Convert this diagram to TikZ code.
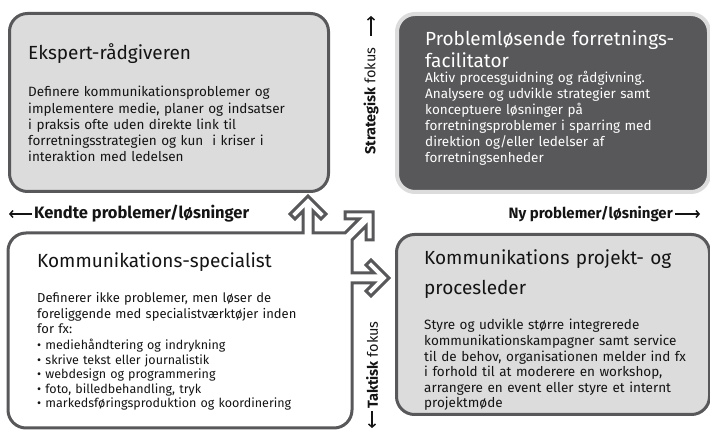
\documentclass[tikz,border=0pt]{standalone}
\usepackage{fontspec}
\setmainfont{Fira Sans}
\usetikzlibrary{arrows.meta}

\definecolor{boksgraa}{RGB}{220,220,221}
\definecolor{moerkgraa}{RGB}{88,88,90}
\definecolor{tekstsort}{RGB}{20,20,20}

\tikzset{
  boks/.style={draw=moerkgraa, line width=3pt, rounded corners=18pt, fill=boksgraa, minimum width=#1, anchor=north west, inner sep=0pt},
  kontur/.style={draw=moerkgraa, line width=3pt, fill=white, line join=miter},
  titel/.style={anchor=base west, inner sep=0pt, text width=300pt, align=left, text=tekstsort, font=\fontsize{19}{22}\selectfont},
  brod/.style={anchor=base west, inner sep=0pt, text width=300pt, align=left, text=tekstsort, font=\fontsize{13.5}{15.5}\selectfont},
  akse/.style={inner sep=2pt, text=tekstsort, font=\fontsize{16}{18}\selectfont},
  pil/.style={-{Straight Barb[length=3pt,width=7pt]}, line width=1.5pt, draw=tekstsort},
}

\begin{document}
\begin{tikzpicture}[x=1pt, y=-1pt]
\useasboundingbox (0,0) rectangle (710,430);

%oben links
\node[boks=319pt, minimum height=178pt] (ekspert) at (8,12) {};
\node[titel] (ekspert-titel) at (28,60) {Ekspert-rådgiveren};
\node[brod, font=\fontsize{13.5}{16.2}\selectfont] (ekspert-tekst) at (28,97) {Definere kommunikationsproblemer og\\
  implementere medie, planer og indsatser\\
  i praksis ofte uden direkte link til\\
  forretningsstrategien og kun\ \ i kriser i\\
  interaktion med ledelsen};

%oben rechts
\node[boks=312pt, minimum height=178pt, fill=moerkgraa, draw=boksgraa, line width=4pt] (facilitator) at (395,12) {};
\node[titel, text=white] (facilitator-titel) at (425,46) {Problemløsende forretnings-\\facilitator};
\node[brod, text=white, font=\fontsize{13.5}{16}\selectfont] (facilitator-tekst) at (425,83) {Aktiv procesguidning og rådgivning.\\
  Analysere og udvikle strategier samt\\
  konceptuere løsninger på\\
  forretningsproblemer i sparring med\\
  direktion og/eller ledelser af\\
  forretningsenheder};

%unten links: Rahmen mit Pfeilen
\draw[kontur] (8,251) arc[start angle=180, end angle=270, radius=18]
  -- (303,233) -- (303,211) -- (295,219) -- (290,214) -- (308,196)
  -- (326,214) -- (321,219) -- (313,211) -- (313,233)
  -- (345,233) -- (359,219) -- (345,219) -- (345,212) -- (373,212)
  -- (373,240) -- (366,240) -- (366,226) -- (352,240)
  -- (352,273) -- (374,273) -- (366,265) -- (371,260) -- (389,278)
  -- (371,296) -- (366,291) -- (374,283) -- (352,283)
  -- (352,410) arc[start angle=0, end angle=90, radius=18]
  -- (26,428) arc[start angle=90, end angle=180, radius=18] -- cycle;
\node[titel] (specialist-titel) at (37,268) {Kommunikations-specialist};
\node[brod, font=\fontsize{13}{15.5}\selectfont] (specialist-tekst) at (37,303) {Definerer ikke problemer, men løser de\\
  foreliggende med specialistværktøjer inden\\
  for fx:};
\node[brod, font=\fontsize{12.5}{14.5}\selectfont] (specialist-liste) at (37,350) {• mediehåndtering og indrykning\\
  • skrive tekst eller journalistik\\
  • webdesign og programmering\\
  • foto, billedbehandling, tryk\\
  • markedsføringsproduktion og koordinering};

%unten rechts
\node[boks=313pt, minimum height=180pt] (projektleder) at (395,233) {};
\node[titel, font=\fontsize{19}{30}\selectfont] (projektleder-titel) at (424,265) {Kommunikations projekt- og\\procesleder};
\node[brod, font=\fontsize{13.5}{15.6}\selectfont] (projektleder-tekst) at (424,330) {Styre og udvikle større integrerede\\
  kommunikationskampagner samt service\\
  til de behov, organisationen melder ind fx\\
  i forhold til at moderere en workshop,\\
  arrangere en event eller styre et internt\\
  projektmøde};

%Achsen
\node[akse, anchor=west, font=\fontsize{16.5}{18}\selectfont] (kendte) at (32,214) {\textbf{Kendte problemer/løsninger}};
\coordinate (kendte-pil) at (9,214);
\draw[pil] (kendte.west) -- (kendte-pil);

\node[akse, anchor=east, font=\fontsize{15}{17}\selectfont] (ny) at (675,214) {\textbf{Ny problemer/løsninger}};
\coordinate (ny-pil) at (700,214);
\draw[pil] (ny.east) -- (ny-pil);

\node[akse, rotate=90, anchor=west, font=\fontsize{14.5}{16}\selectfont] (strategisk) at (371,157) {\textbf{Strategisk} fokus};
\coordinate (strategisk-fra) at (371,36);
\coordinate (strategisk-pil) at (371,16);
\draw[pil] (strategisk-fra) -- (strategisk-pil);

\node[akse, rotate=90, anchor=west, font=\fontsize{14.5}{16}\selectfont] (taktisk) at (372,411) {\textbf{Taktisk} fokus};
\coordinate (taktisk-pil) at (372,428);
\draw[pil] (taktisk.west) -- (taktisk-pil);
\end{tikzpicture}
\end{document}
